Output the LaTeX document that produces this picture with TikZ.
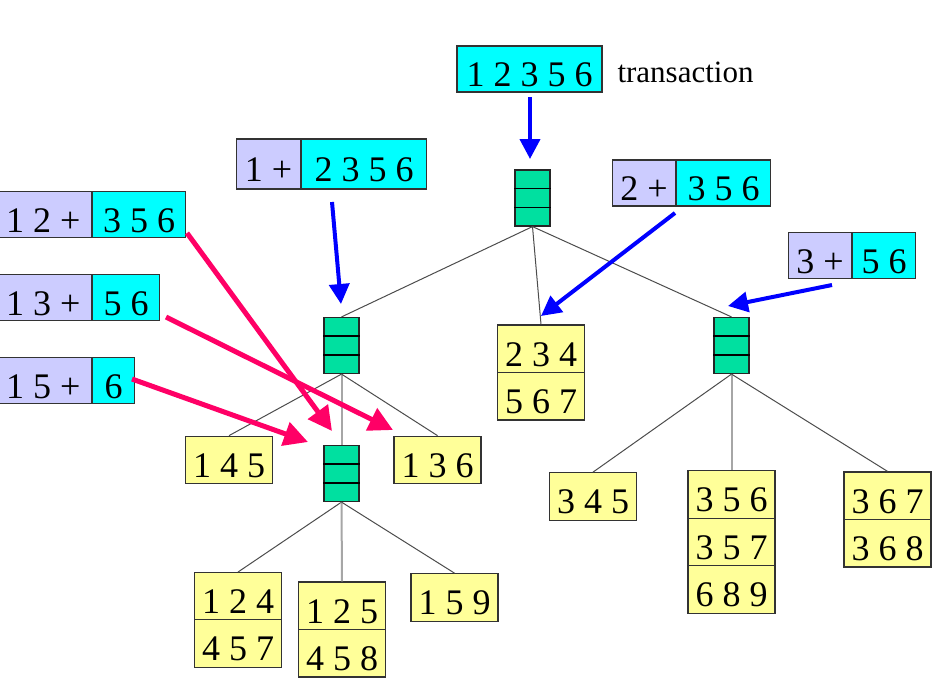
\documentclass[tikz,border=0pt]{standalone}
\usepackage{fontspec}
\setmainfont{Liberation Serif}
\usetikzlibrary{shapes.multipart,arrows.meta,calc}

\definecolor{lavfill}{RGB}{204,204,255}
\definecolor{cyanfill}{RGB}{0,255,255}
\definecolor{hashgreen}{RGB}{0,224,160}
\definecolor{leafyellow}{RGB}{255,255,153}
\definecolor{hotred}{RGB}{255,0,102}

\newcommand{\cellstrut}{\rule{0pt}{35pt}}

\tikzset{
  cellbox/.style={draw=black!80, line width=1.2pt, inner sep=0pt,
    font=\fontsize{36}{40}\selectfont},
  lav/.style={cellbox, fill=lavfill, minimum height=46pt, text height=35pt, text depth=0pt},
  cyn/.style={cellbox, fill=cyanfill, minimum height=46pt, text height=35pt, text depth=0pt},
  hashbox/.style={draw=black!85, line width=1.2pt, fill=hashgreen,
    minimum width=35pt, minimum height=56pt, inner sep=0pt},
  leaf/.style={cellbox, fill=leafyellow, rectangle split, rectangle split parts=#1,
    inner xsep=0pt, inner ysep=5.5pt, minimum width=87pt},
  treeline/.style={draw=black!70, line width=1pt},
  midline/.style={draw=black!35, line width=2pt},
  bluearrow/.style={draw=blue, line width=4pt, -{Triangle[length=20pt,width=20pt]}},
  redarrow/.style={draw=hotred, line width=5pt, -{Triangle[length=24pt,width=24pt]}},
}

\begin{document}
\begin{tikzpicture}[x=1pt,y=-1pt]
  \useasboundingbox (0,0) rectangle (939,681);
  % transactions
  \node[cyn, minimum width=145pt] (trans) at (529.5,69) {1 2 3 5 6};
  \node[anchor=base west, font=\fontsize{31}{36}\selectfont] (translabel) at (614,82) {transaction};

  \node[lav, minimum width=64pt, minimum height=50pt, anchor=east] (t1a) at (301,164) {1 +};
  \node[cyn, minimum width=125pt, minimum height=50pt, anchor=west] (t1b) at (301,164) {2 3 5 6};
  \node[lav, minimum width=63pt, anchor=east] (t2a) at (676,183) {2 +};
  \node[cyn, minimum width=94pt, anchor=west] (t2b) at (676,183) {3 5 6};
  \node[lav, minimum width=63pt, anchor=east] (t3a) at (852,255.5) {3 +};
  \node[cyn, minimum width=63pt, anchor=west] (t3b) at (852,255.5) {5 6};

  \node[lav, minimum width=96pt, anchor=east] (t12a) at (92,214.5) {1 2 +};
  \node[cyn, minimum width=93pt, anchor=west] (t12b) at (92,214.5) {3 5 6};
  \node[lav, minimum width=96pt, anchor=east] (t13a) at (92,297.5) {1 3 +};
  \node[cyn, minimum width=67pt, anchor=west] (t13b) at (92,297.5) {5 6};
  \node[lav, minimum width=96pt, anchor=east] (t15a) at (92,380.5) {1 5 +};
  \node[cyn, minimum width=42pt, anchor=west] (t15b) at (92,380.5) {6};

  % hash tree
  \node[hashbox] (hroot) at (532.5,198) {};
  \node[hashbox] (hleft) at (341.5,345.5) {};
  \node[hashbox] (hlow) at (341.5,473.5) {};
  \node[hashbox] (hright) at (731.5,345.5) {};

  \node[leaf=2] (l234) at (541,372.5) {\cellstrut 2 3 4\nodepart{two}\cellstrut 5 6 7};
  \node[leaf=1] (l145) at (229,460) {\cellstrut 1 4 5};
  \node[leaf=1] (l136) at (437.5,460) {\cellstrut 1 3 6};
  \node[leaf=2] (l124) at (238,620) {\cellstrut 1 2 4\nodepart{two}\cellstrut 4 5 7};
  \node[leaf=2] (l125) at (342,629.5) {\cellstrut 1 2 5\nodepart{two}\cellstrut 4 5 8};
  \node[leaf=1] (l159) at (454.5,597.5) {\cellstrut 1 5 9};
  \node[leaf=1] (l345) at (593,496.5) {\cellstrut 3 4 5};
  \node[leaf=3] (l356) at (731.5,542) {\cellstrut 3 5 6\nodepart{two}\cellstrut 3 5 7\nodepart{three}\cellstrut 6 8 9};
  \node[leaf=2] (l367) at (887.5,519.5) {\cellstrut 3 6 7\nodepart{two}\cellstrut 3 6 8};

  \foreach \h in {hroot,hleft,hlow,hright}{
    \draw[line width=1.2pt] ($(\h.north west)!1/3!(\h.south west)$) -- ($(\h.north east)!1/3!(\h.south east)$);
    \draw[line width=1.2pt] ($(\h.north west)!2/3!(\h.south west)$) -- ($(\h.north east)!2/3!(\h.south east)$);
  }

  \draw[treeline] (hroot.south) -- (hleft.north);
  \draw[treeline] (hroot.south) -- (l234.north);
  \draw[treeline] (hroot.south) -- (hright.north);
  \draw[treeline] (hleft.south) -- (l145.north);
  \draw[midline] (hleft.south) -- (hlow.north);
  \draw[treeline] (hleft.south) -- (l136.north);
  \draw[treeline] (hlow.south) -- (l124.north);
  \draw[midline] (hlow.south) -- (l125.north);
  \draw[treeline] (hlow.south) -- (l159.north);
  \draw[treeline] (hright.south) -- (l345.north);
  \draw[midline] (hright.south) -- (l356.north);
  \draw[treeline] (hright.south) -- (l367.north);

  % arrows
  \coordinate (a0) at (530,97);   \coordinate (b0) at (530,159);
  \coordinate (a1) at (332,202);  \coordinate (b1) at (341,304);
  \coordinate (a2) at (675,213);  \coordinate (b2) at (541,316);
  \coordinate (a3) at (832,285);  \coordinate (b3) at (728,306);
  \coordinate (a12) at (187,233); \coordinate (b12) at (332,431);
  \coordinate (a13) at (166,317); \coordinate (b13) at (393,430);
  \coordinate (a15) at (132,379); \coordinate (b15) at (308,442);

  \draw[bluearrow] (a0) -- (b0);
  \draw[bluearrow] (a1) -- (b1);
  \draw[bluearrow] (a2) -- (b2);
  \draw[bluearrow] (a3) -- (b3);
  \draw[redarrow] (a12) -- (b12);
  \draw[redarrow] (a13) -- (b13);
  \draw[redarrow] (a15) -- (b15);
\end{tikzpicture}
\end{document}
